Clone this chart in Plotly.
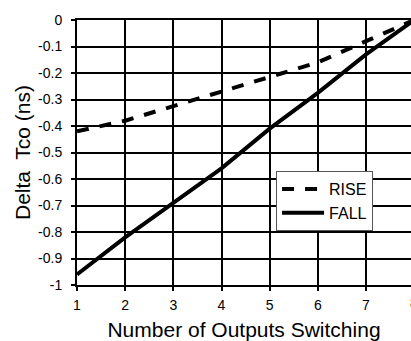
import plotly.graph_objects as go

# valores
outputs = [1, 2, 3, 4, 5, 6, 7, 8]
rise = [-0.42, -0.38, -0.325, -0.27, -0.215, -0.16, -0.08, 0.0]
fall = [-0.96, -0.82, -0.69, -0.56, -0.41, -0.275, -0.13, 0.0]
y_ticks = [0, -0.1, -0.2, -0.3, -0.4, -0.5, -0.6, -0.7, -0.8, -0.9, -1]
y_labels = ["0", "-0.1", "-0.2", "-0.3", "-0.4", "-0.5", "-0.6", "-0.7", "-0.8", "-0.9", "-1"]

FONT = "Liberation Sans, Arial, sans-serif"

fig = go.Figure()
fig.add_trace(go.Scatter(x=outputs, y=rise, mode="lines", name="RISE",
                         line=dict(color="black", width=4, dash="12px,11px")))
fig.add_trace(go.Scatter(x=outputs, y=fall, mode="lines", name="FALL",
                         line=dict(color="black", width=4)))

fig.update_layout(
    width=411, height=341,
    margin=dict(l=77, r=0, t=20, b=54),
    paper_bgcolor="white", plot_bgcolor="white",
    font=dict(family=FONT, size=14, color="black"),
    legend=dict(x=0.596, y=0.43, xanchor="left", yanchor="top",
                bgcolor="white", bordercolor="#555", borderwidth=1,
                font=dict(size=16), tracegroupgap=0, itemwidth=42),
)

fig.update_xaxes(
    range=[1, 7.934], tickvals=outputs[:-1],
    showgrid=True, gridcolor="black", gridwidth=2,
    showline=True, linecolor="black", linewidth=2, mirror=True,
    ticks="outside", ticklen=4, tickwidth=2, tickcolor="black",
    zeroline=False, ticklabelstandoff=2,
    title=dict(text="Number of Outputs Switching", font=dict(size=21), standoff=14),
)
fig.update_yaxes(
    range=[-1, 0], tickvals=y_ticks, ticktext=y_labels,
    showgrid=True, gridcolor="black", gridwidth=2,
    showline=True, linecolor="black", linewidth=2,
    ticks="outside", ticklen=4, tickwidth=2, tickcolor="black",
    zeroline=False, ticklabelstandoff=6,
    title=dict(text="Delta  Tco (ns)", font=dict(size=21), standoff=2),
)

# o "8" fica cortado na borda direita do original
fig.add_annotation(text="8", xref="paper", yref="paper", x=1.009, y=0,
                   yshift=-18, showarrow=False, font=dict(size=14),
                   xanchor="center", yanchor="middle")

# tira a margem do body para o gráfico ficar colado no canto
fig.write_html("out.html", config={"displayModeBar": False},
               post_script="document.body.style.margin='0';document.body.style.overflow='hidden';")
